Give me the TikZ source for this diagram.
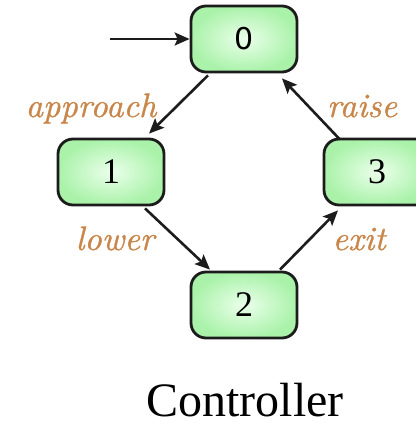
\documentclass[tikz,border=0pt]{standalone}
\usepackage{fontspec}
\newfontfamily\timesfam{Liberation Serif}
\newfontfamily\digitsans{DejaVu Sans}
\newfontfamily\labelfam{lmroman10-italic.otf}[FakeBold=0.9]
\usetikzlibrary{arrows.meta}
\definecolor{labelbrown}{HTML}{C8864A}
\definecolor{stateedge}{HTML}{1C1C1C}
\tikzset{
  state/.style={draw=stateedge, line width=2.8pt, rounded corners=15pt,
    minimum width=106pt, minimum height=66pt, inner sep=0pt,
    shading=radial, inner color=green!8!white, outer color={rgb,255:red,170;green,242;blue,170},
    font=\timesfam\fontsize{36}{40}\selectfont},
  trans/.style={line width=2.6pt, draw=stateedge, -{Stealth[length=15pt,width=13pt,inset=3pt]}},
  act/.style={text=labelbrown, font=\labelfam\fontsize{34}{36}\selectfont, inner sep=0pt}
}
\begin{document}
\begin{tikzpicture}[x=1pt,y=-1pt]
  \useasboundingbox (0,0) rectangle (415,427);
  % states
  \node[state] (n0) at (244,39) {\digitsans\fontsize{30}{34}\selectfont 0};
  \node[state] (n1) at (111,172) {1};
  \node[state] (n2) at (244,305) {2};
  \node[state] (n3) at (377,172) {3};
  % initial marker
  \coordinate (init) at (110,39);
  \draw[trans] (init) -- (n0.west);
  % transitions
  \draw[trans] ([xshift=-36pt,yshift=-2pt]n0.south) -- ([xshift=38pt,yshift=4pt]n1.north);
  \draw[trans] ([xshift=34pt,yshift=-2pt]n1.south) -- ([xshift=-34pt,yshift=1pt]n2.north);
  \draw[trans] ([xshift=36pt,yshift=1pt]n2.north) -- ([xshift=-39pt,yshift=-4pt]n3.south);
  \draw[trans] ([xshift=-37pt,yshift=-2pt]n3.north) -- ([xshift=38pt,yshift=-5pt]n0.south);
  % action labels
  \node[act, anchor=base] (la) at (91,117) {approach};
  \node[act, anchor=base] (lr) at (362,117) {raise};
  \node[act, anchor=base] (ll) at (115,250) {lower};
  \node[act, anchor=base] (le) at (359,250) {exit};
  % caption
  \node[anchor=base, font=\timesfam\fontsize{48}{52}\selectfont, inner sep=0pt] (cap) at (245,416) {Controller};
\end{tikzpicture}
\end{document}
